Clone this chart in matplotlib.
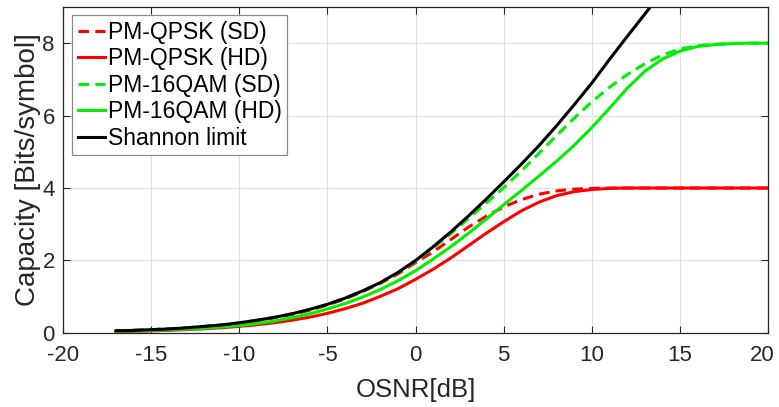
import numpy as np
import matplotlib
matplotlib.use("Agg")
import matplotlib.pyplot as plt
import matplotlib.transforms as mtransforms

osnr = list(range(-17, 21))
osnr_shannon = list(range(-17, 15))

qpsk_sd = [0.057, 0.072, 0.090, 0.113, 0.141, 0.176, 0.22, 0.27, 0.34, 0.42,
           0.51, 0.63, 0.77, 0.94, 1.14, 1.37, 1.63, 1.94, 2.24, 2.58,
           2.92, 3.22, 3.48, 3.68, 3.83, 3.92, 3.97, 3.99, 4.0, 4.0,
           4.0, 4.0, 4.0, 4.0, 4.0, 4.0, 4.0, 4.0]
qpsk_hd = [0.036, 0.046, 0.058, 0.072, 0.091, 0.114, 0.144, 0.181, 0.226, 0.282,
           0.352, 0.436, 0.54, 0.67, 0.82, 1.01, 1.22, 1.48, 1.76, 2.07,
           2.41, 2.75, 3.07, 3.37, 3.61, 3.79, 3.90, 3.96, 3.99, 4.0,
           4.0, 4.0, 4.0, 4.0, 4.0, 4.0, 4.0, 4.0]
qam16_sd = [0.06, 0.07, 0.09, 0.11, 0.14, 0.18, 0.22, 0.28, 0.35, 0.43,
            0.53, 0.65, 0.79, 0.96, 1.16, 1.38, 1.66, 1.98, 2.35, 2.74,
            3.16, 3.58, 4.01, 4.47, 4.96, 5.45, 5.93, 6.38, 6.78, 7.13,
            7.43, 7.67, 7.84, 7.93, 7.97, 7.99, 8.0, 8.0]
qam16_hd = [0.045, 0.055, 0.07, 0.085, 0.105, 0.13, 0.165, 0.205, 0.26, 0.33,
            0.42, 0.53, 0.66, 0.81, 0.99, 1.20, 1.44, 1.72, 2.04, 2.38,
            2.75, 3.14, 3.54, 3.93, 4.33, 4.74, 5.18, 5.67, 6.20, 6.75,
            7.22, 7.56, 7.78, 7.91, 7.96, 7.99, 8.0, 8.0]
shannon = [0.06, 0.07, 0.09, 0.11, 0.14, 0.18, 0.22, 0.28, 0.35, 0.43,
           0.53, 0.65, 0.79, 0.96, 1.16, 1.39, 1.67, 2.00, 2.38, 2.79,
           3.23, 3.69, 4.17, 4.66, 5.17, 5.72, 6.30, 6.90, 7.55, 8.18,
           8.80, 9.42]

labels = ["PM-QPSK (SD)", "PM-QPSK (HD)", "PM-16QAM (SD)", "PM-16QAM (HD)", "Shannon limit"]
xticks = [-20, -15, -10, -5, 0, 5, 10, 15, 20]
yticks = [0, 2, 4, 6, 8]

plt.rcParams['font.family'] = ['Liberation Sans', 'DejaVu Sans']
plt.rcParams['axes.unicode_minus'] = False
txt = '#262626'

fig = plt.figure(figsize=(7.79, 4.07), dpi=100)
ax = fig.add_axes([0.081, 0.182, 0.905, 0.801])

lw = 2.2
green = '#00f000'
ax.plot(osnr, qpsk_sd, color='red', lw=lw, dashes=(3.5, 2), label=labels[0])
ax.plot(osnr, qpsk_hd, color='red', lw=lw, label=labels[1])
ax.plot(osnr, qam16_sd, color=green, lw=lw, dashes=(3.5, 2), label=labels[2])
ax.plot(osnr, qam16_hd, color=green, lw=lw, label=labels[3])
ax.plot(osnr_shannon, shannon, color='black', lw=lw, label=labels[4])

ax.set_xlim(-20, 20)
ax.set_ylim(0, 9)
ax.set_xticks(xticks)
ax.set_yticks(yticks)
ax.grid(True, color='#dfdfdf', lw=0.8)
ax.set_axisbelow(True)
ax.tick_params(direction='in', top=True, right=True, length=5, colors=txt, labelsize=16)
ax.tick_params(axis='x', pad=9)
ax.tick_params(axis='y', pad=6)
for s in ax.spines.values():
    s.set_color(txt)
    s.set_linewidth(0.9)

# keep the last x tick label inside the figure
last = ax.get_xticklabels()[-1]
last.set_transform(last.get_transform() + mtransforms.ScaledTranslation(-6 / 100, 0, fig.dpi_scale_trans))

ax.set_xlabel("OSNR[dB]", color=txt, fontsize=18.5)
ax.set_ylabel("Capacity [Bits/symbol]", color=txt, fontsize=20)
ax.xaxis.set_label_coords(0.5, -0.138)
ax.yaxis.set_label_coords(-0.031, 0.5)

leg = ax.legend(loc='upper left', bbox_to_anchor=(0.0128, 0.975), fancybox=False,
                edgecolor='#8a8a8a', framealpha=1, fontsize=16.5, handlelength=1.2,
                handletextpad=0.1, labelspacing=0.15, borderpad=0.25, borderaxespad=0)
leg.get_frame().set_linewidth(0.9)
for t in leg.get_texts():
    t.set_color('black')

fig.savefig("out.png", dpi=100)
